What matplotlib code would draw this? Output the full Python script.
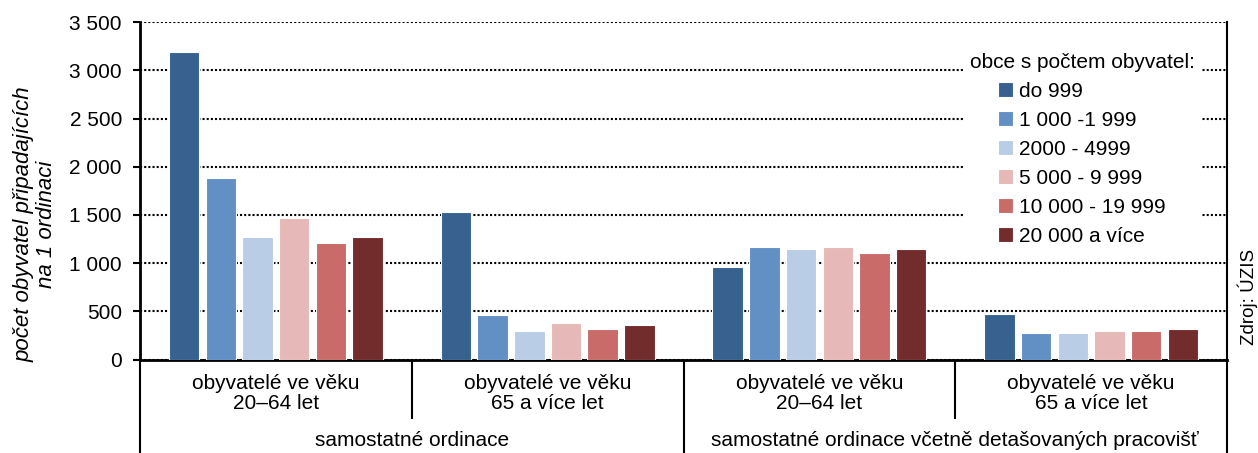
import matplotlib.pyplot as plt
import matplotlib.transforms as mtransforms
from matplotlib.ticker import FuncFormatter, MultipleLocator
import numpy as np

plt.rcParams['font.family'] = ['Liberation Sans', 'DejaVu Sans']

# --- data ---
age_labels = ['obyvatelé ve věku\n20–64 let', 'obyvatelé ve věku\n65 a více let',
              'obyvatelé ve věku\n20–64 let', 'obyvatelé ve věku\n65 a více let']
type_labels = ['samostatné ordinace', 'samostatné ordinace včetně detašovaných pracovišť']
size_classes = ['do 999', '1 000 -1 999', '2000 - 4999', '5 000 - 9 999',
                '10 000 - 19 999', '20 000 a více']

do_999 = [3190, 1535, 960, 468]
od_1000 = [1885, 466, 1166, 277]
od_2000 = [1270, 300, 1145, 277]
od_5000 = [1472, 383, 1166, 298]
od_10000 = [1207, 321, 1107, 298]
od_20000 = [1269, 362, 1145, 319]
series = [do_999, od_1000, od_2000, od_5000, od_10000, od_20000]

colors = ['#37618f', '#628fc4', '#b9cde6', '#e6b8b7', '#c96b69', '#732c2c']

# --- figure ---
fig = plt.figure(figsize=(12.58, 4.53), dpi=100)
ax = fig.add_axes([0.1113, 0.2064, 0.8641, 0.7444])

x = np.arange(len(age_labels))
pitch = 0.135
width = 0.112
for i, (vals, c, name) in enumerate(zip(series, colors, size_classes)):
    ax.bar(x + (i - 2.5) * pitch, vals, width, color=c, edgecolor='white',
           linewidth=0.8, label=name, zorder=3)

ax.set_xlim(-0.5, 3.5)
ax.set_ylim(0, 3500)
ax.yaxis.set_major_locator(MultipleLocator(500))
ax.yaxis.set_major_formatter(FuncFormatter(lambda v, p: f'{int(v):,}'.replace(',', ' ')))
ax.tick_params(axis='y', direction='out', length=5, width=1.5, labelsize=15, pad=8)
ax.set_xticks([])

ax.grid(axis='y', color='black', linestyle=(0, (1, 1)), linewidth=1.5)
ax.set_axisbelow(True)

ax.spines['top'].set_visible(False)
ax.spines['left'].set_linewidth(2)
ax.spines['bottom'].set_linewidth(2)
ax.spines['right'].set_linewidth(1.5)

# two-level category axis below the plot
trans = mtransforms.blended_transform_factory(ax.transData, ax.transAxes)
for xd, y_end in [(-0.5, -0.28), (0.5, -0.177), (1.5, -0.28), (2.5, -0.177), (3.5, -0.28)]:
    ax.plot([xd, xd], [0, y_end], color='black', linewidth=1.5, transform=trans,
            clip_on=False, solid_capstyle='butt')

for xi, lab in zip(x, age_labels):
    ax.text(xi, -0.101, lab, transform=trans, ha='center', va='center',
            fontsize=15, linespacing=1.1)
for xi, lab in zip([0.5, 2.5], type_labels):
    ax.text(xi, -0.239, lab, transform=trans, ha='center', va='center', fontsize=15)

fig.text(0.028, 0.505, 'počet obyvatel připadajících\nna 1 ordinaci', rotation=90,
         ha='center', va='center', fontsize=16, style='italic', linespacing=1.05)
fig.text(0.992, 0.345, 'Zdroj: ÚZIS', rotation=90, ha='center', va='center', fontsize=13.5)

leg = ax.legend(title='obce s počtem obyvatel:', loc='upper center',
                bbox_to_anchor=(0.8666, 0.959), fontsize=15, title_fontsize=15,
                handlelength=0.7, handleheight=0.7, handletextpad=0.3,
                labelspacing=0.48, frameon=True, fancybox=False, framealpha=1,
                facecolor='white', edgecolor='none', borderpad=0.3)
leg.set_zorder(5)

fig.savefig('out.png', dpi=100)
